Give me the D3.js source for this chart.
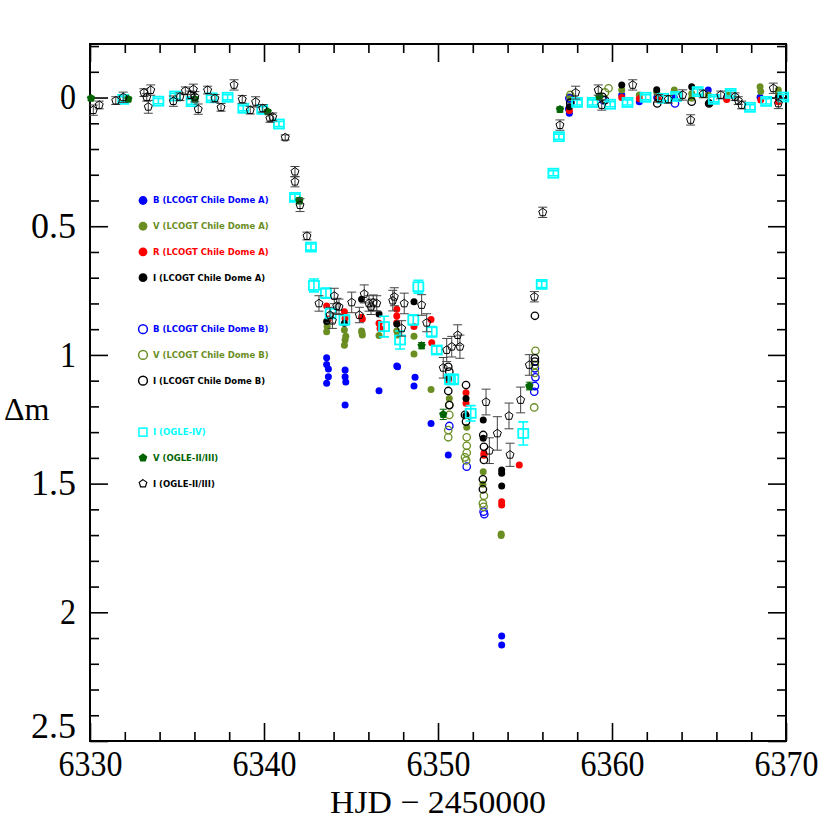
<!DOCTYPE html>
<meta charset="utf-8">
<style>
    body {
        margin: 0;
        background-color: #fff;
    }

    svg {
        display: block;
    }

    .axis text {
        font-family: "Liberation Serif", "DejaVu Serif", serif;
        font-size: 35px;
        fill: #000;
    }

    .axis path,
    .axis line {
        stroke: #000;
        stroke-width: 1.6px;
    }

    .legenda text {
        font-family: "DejaVu Sans", sans-serif;
        font-weight: bold;
        font-size: 8.5px;
    }

    .titulo {
        font-family: "Liberation Serif", "DejaVu Serif", serif;
        font-size: 32px;
    }
</style>
<title>Light curve</title>
<svg width="830" height="830"></svg>
<script src="https://cdn.jsdelivr.net/npm/d3@7"></script>
<script>
    // LCOGT Chile Dome A  [HJD-2450000, dm]
    var domeA_B = [
        [6343.60, 1.011], [6343.60, 1.037], [6343.70, 1.055], [6343.70, 1.085], [6343.60, 1.110],
        [6344.66, 1.059], [6344.66, 1.085], [6344.70, 1.105], [6344.66, 1.195],
        [6346.61, 1.139], [6347.63, 1.043], [6347.68, 1.046],
        [6348.68, 1.087], [6348.62, 1.121], [6349.60, 1.266], [6350.59, 1.389],
        [6353.66, 2.092], [6353.66, 2.127],
        [6357.55, 0.061], [6357.50, 0.045], [6360.56, -0.010], [6361.57, 0.016], [6362.57, 0.000],
        [6363.58, 0.000], [6365.53, -0.029], [6366.59, 0.000], [6368.51, -0.001], [6369.56, 0.000]
    ];
    var domeA_V = [
        [6343.63, 0.890], [6343.60, 0.910],
        [6344.62, 0.903], [6344.70, 0.927], [6344.66, 0.942], [6344.62, 0.962],
        [6345.61, 0.907], [6345.65, 0.923], [6345.63, 0.914],
        [6346.61, 0.925], [6347.63, 0.907], [6347.68, 0.923],
        [6348.62, 0.927], [6348.62, 0.996], [6349.60, 1.134],
        [6350.65, 1.169], [6351.65, 1.281], [6352.60, 1.454], [6352.58, 1.502],
        [6353.63, 1.696], [6353.63, 1.702],
        [6357.55, -0.003], [6357.60, 0.010], [6360.56, -0.029], [6361.57, -0.010], [6362.57, -0.020],
        [6363.58, -0.029], [6364.58, -0.016], [6364.58, 0.003], [6365.53, -0.010], [6366.65, -0.010],
        [6368.51, -0.042], [6368.55, -0.023], [6369.56, -0.029], [6369.56, -0.015]
    ];
    var domeA_R = [
        [6343.60, 0.810], [6343.70, 0.860], [6344.62, 0.832], [6344.66, 0.858],
        [6345.61, 0.854], [6345.65, 0.860], [6346.61, 0.877], [6346.67, 0.897],
        [6347.63, 0.823], [6347.63, 0.849], [6347.63, 0.875], [6348.62, 0.890],
        [6349.60, 0.862], [6349.64, 0.953], [6350.59, 1.098],
        [6351.61, 1.147], [6351.61, 1.188], [6352.64, 1.382], [6352.64, 1.390],
        [6353.66, 1.570], [6353.66, 1.583], [6354.67, 1.428],
        [6357.55, 0.050], [6360.56, 0.000], [6361.57, 0.005], [6362.65, 0.005],
        [6366.59, 0.008], [6368.55, 0.010], [6369.56, 0.016]
    ];
    var domeA_I = [
        [6343.60, 0.870], [6344.62, 0.877], [6345.61, 0.784], [6346.61, 0.841],
        [6347.63, 0.880], [6348.62, 0.793], [6350.59, 1.090],
        [6351.61, 1.169], [6351.61, 1.235], [6352.60, 1.253], [6352.60, 1.324],
        [6353.66, 1.447], [6353.66, 1.460], [6353.66, 1.509],
        [6357.55, 0.036], [6360.56, -0.049], [6362.57, -0.030], [6364.58, -0.042],
        [6365.58, 0.023], [6369.56, 0.000]
    ];

    // LCOGT Chile Dome B
    var domeB_B = [
        [6350.65, 1.276], [6351.65, 1.434], [6352.62, 1.609], [6352.66, 1.619],
        [6355.57, 1.052], [6355.60, 1.087], [6355.57, 1.121], [6355.53, 1.143],
        [6357.55, 0.003], [6357.60, 0.020], [6359.50, 0.010], [6363.62, 0.023]
    ];
    var domeB_V = [
        [6350.65, 1.195], [6350.65, 1.233], [6350.59, 1.292], [6350.59, 1.320],
        [6351.65, 1.320], [6351.65, 1.353], [6351.65, 1.380], [6351.55, 1.398], [6351.62, 1.410],
        [6352.64, 1.547], [6352.58, 1.577], [6352.62, 1.590],
        [6355.60, 0.984], [6355.57, 1.039], [6355.57, 1.070], [6355.53, 1.204],
        [6357.60, -0.010], [6359.80, -0.036], [6359.60, -0.020]
    ];
    var domeB_I = [
        [6350.59, 1.046], [6350.65, 1.065], [6350.59, 1.140], [6350.65, 1.195],
        [6351.61, 1.117], [6351.55, 1.233], [6351.61, 1.259],
        [6352.60, 1.311], [6352.64, 1.357], [6352.64, 1.408], [6352.58, 1.483], [6352.58, 1.522],
        [6355.57, 0.848], [6355.57, 1.013], [6355.57, 1.026],
        [6357.60, 0.020], [6359.45, -0.003], [6359.60, 0.010], [6362.60, 0.023],
        [6364.58, 0.016], [6365.58, 0.023]
    ];

    // OGLE  [HJD-2450000, dm, erro]
    var ogle4_I = [
        [6331.91, 0.007, 0.010], [6333.93, 0.014, 0.010], [6334.89, -0.006, 0.010], [6335.84, 0.016, 0.010],
        [6336.99, 0.001, 0.010], [6337.91, -0.001, 0.010], [6338.81, 0.042, 0.010], [6339.90, 0.046, 0.010],
        [6340.86, 0.103, 0.010], [6341.78, 0.388, 0.012], [6342.70, 0.581, 0.012], [6342.87, 0.730, 0.025],
        [6343.56, 0.760, 0.020], [6343.83, 0.838, 0.020], [6344.62, 0.864, 0.020], [6346.90, 0.890, 0.040],
        [6347.82, 0.942, 0.035], [6348.87, 0.735, 0.025], [6348.58, 0.864, 0.020], [6349.64, 0.910, 0.020],
        [6349.93, 0.981, 0.015], [6350.69, 1.095, 0.020], [6350.88, 1.095, 0.020], [6351.88, 1.227, 0.030],
        [6354.90, 1.305, 0.045], [6355.96, 0.726, 0.012], [6356.63, 0.294, 0.010], [6356.95, 0.152, 0.010],
        [6357.99, 0.019, 0.010], [6358.89, 0.019, 0.010], [6359.89, 0.026, 0.010], [6360.89, 0.019, 0.010],
        [6361.93, -0.001, 0.010], [6362.93, 0.003, 0.010], [6363.68, -0.004, 0.010], [6364.92, -0.023, 0.010],
        [6365.85, 0.007, 0.010], [6366.82, -0.016, 0.010], [6367.93, 0.038, 0.010], [6368.86, 0.015, 0.010],
        [6369.84, -0.002, 0.010]
    ];
    var ogle23_V = [
        [6330.06, 0.003, 0.008], [6332.20, 0.006, 0.008], [6336.03, 0.006, 0.008], [6340.21, 0.055, 0.008],
        [6342.03, 0.401, 0.012], [6349.06, 0.964, 0.012], [6350.30, 1.231, 0.020], [6355.25, 1.121, 0.015],
        [6357.01, 0.046, 0.010], [6359.27, -0.003, 0.010]
    ];
    var ogle23_I = [
        [6330.19, 0.049, 0.020], [6330.53, 0.029, 0.015], [6331.48, 0.012, 0.015], [6331.91, -0.001, 0.020],
        [6333.10, -0.019, 0.015], [6333.26, -0.001, 0.015], [6333.35, 0.036, 0.025], [6333.49, -0.029, 0.020],
        [6334.79, 0.014, 0.020], [6335.17, -0.003, 0.015], [6335.48, -0.026, 0.015], [6335.79, -0.010, 0.015],
        [6335.94, -0.032, 0.020], [6336.03, -0.003, 0.020], [6336.22, 0.045, 0.020], [6336.76, -0.029, 0.015],
        [6337.18, 0.003, 0.015], [6337.53, 0.038, 0.015], [6338.28, -0.049, 0.020], [6338.75, 0.007, 0.015],
        [6339.21, 0.049, 0.015], [6339.52, 0.017, 0.020], [6339.93, 0.042, 0.015], [6340.34, 0.081, 0.015],
        [6340.50, 0.075, 0.015], [6341.22, 0.155, 0.010], [6341.78, 0.288, 0.020], [6341.78, 0.327, 0.020],
        [6342.07, 0.418, 0.025], [6342.47, 0.538, 0.015],
        [6343.16, 0.800, 0.030], [6343.79, 0.845, 0.030], [6343.93, 0.867, 0.030], [6344.04, 0.771, 0.030],
        [6344.18, 0.810, 0.030], [6344.31, 0.813, 0.030], [6345.04, 0.796, 0.040], [6345.48, 0.845, 0.030],
        [6345.76, 0.763, 0.035], [6346.03, 0.800, 0.030], [6346.15, 0.813, 0.030], [6346.28, 0.797, 0.030],
        [6346.48, 0.800, 0.030], [6347.40, 0.789, 0.040], [6347.49, 0.774, 0.035], [6347.91, 0.897, 0.030],
        [6348.06, 0.800, 0.040], [6349.06, 0.806, 0.040], [6349.35, 0.875, 0.035], [6350.30, 1.050, 0.040],
        [6350.50, 0.981, 0.045], [6350.79, 0.968, 0.040], [6351.13, 0.923, 0.040], [6351.26, 0.968, 0.045],
        [6352.76, 1.183, 0.050], [6352.95, 1.372, 0.050], [6353.41, 1.305, 0.065], [6354.08, 1.237, 0.050],
        [6354.14, 1.388, 0.045], [6354.75, 1.175, 0.050], [6355.25, 1.039, 0.040], [6355.54, 0.774, 0.020],
        [6356.02, 0.446, 0.020], [6357.01, 0.107, 0.020],
        [6357.91, -0.019, 0.025], [6359.21, -0.029, 0.020], [6359.41, 0.029, 0.020], [6361.19, -0.049, 0.020],
        [6362.68, 0.003, 0.015], [6363.24, 0.007, 0.015], [6364.06, -0.010, 0.020], [6364.52, 0.087, 0.020],
        [6365.25, -0.014, 0.015], [6366.25, -0.010, 0.015], [6367.07, -0.003, 0.015], [6367.26, 0.012, 0.015],
        [6367.45, 0.029, 0.015], [6369.27, -0.036, 0.020], [6369.56, 0.023, 0.020]
    ];

    var xTicks = [6330, 6340, 6350, 6360, 6370];
    var yTicks = [0, 0.5, 1, 1.5, 2, 2.5];
    var legendLabels = [
        "B (LCOGT Chile Dome A)", "V (LCOGT Chile Dome A)", "R (LCOGT Chile Dome A)", "I (LCOGT Chile Dome A)",
        "B (LCOGT Chile Dome B)", "V (LCOGT Chile Dome B)", "I (LCOGT Chile Dome B)",
        "I (OGLE-IV)", "V (OGLE-II/III)", "I (OGLE-II/III)"
    ];

    var svg = d3.select("svg");
    var margemEsq = 90, margemDir = 786, margemSup = 44, margemInf = 741;

    var x = d3.scaleLinear().domain([6330, 6370]).range([margemEsq, margemDir]);
    var y = d3.scaleLinear().domain([-0.208, 2.5]).range([margemSup, margemInf]);

    var azul = "#0000ff", oliva = "#6b8e23", vermelho = "#ff0000",
        ciano = "#00ffff", verde = "#006400";

    // eixos: maiores e menores nos quatro lados
    var xMinor = d3.range(6330, 6371, 2).filter(function (d) { return d % 10 != 0; });
    var yMinor = d3.range(-2, 26).map(function (d) { return d / 10; })
        .filter(function (d) { return Math.round(d * 10) % 5 != 0; });

    function eixo(gen, transform, valores, tamanho, rotulo) {
        var g = svg.append("g").attr("class", "axis").attr("transform", transform)
            .call(gen.tickValues(valores).tickSize(-tamanho).tickSizeOuter(0)
                .tickFormat(rotulo ? function (d) { return d; } : ""));
        g.select(".domain").remove();
        return g;
    }

    var xb = eixo(d3.axisBottom(x).tickPadding(10), "translate(0," + margemInf + ")", xTicks, 18, true);
    eixo(d3.axisBottom(x), "translate(0," + margemInf + ")", xMinor, 9, false);
    eixo(d3.axisTop(x), "translate(0," + margemSup + ")", xTicks, 18, false);
    eixo(d3.axisTop(x), "translate(0," + margemSup + ")", xMinor, 9, false);
    var yl = eixo(d3.axisLeft(y).tickPadding(14), "translate(" + margemEsq + ",0)", yTicks, 18, true);
    eixo(d3.axisLeft(y), "translate(" + margemEsq + ",0)", yMinor, 9, false);
    eixo(d3.axisRight(y), "translate(" + margemDir + ",0)", yTicks, 18, false);
    eixo(d3.axisRight(y), "translate(" + margemDir + ",0)", yMinor, 9, false);

    xb.selectAll("text").attr("textLength", 64).attr("lengthAdjust", "spacingAndGlyphs");
    yl.selectAll("text").attr("textLength", function (d) { return String(d).length > 1 ? 45 : 16; })
        .attr("lengthAdjust", "spacingAndGlyphs");
    yl.selectAll("text").filter(function (d) { return d == 2.5; }).attr("dy", "-0.1em");

    svg.append("rect")
        .attr("x", margemEsq).attr("y", margemSup)
        .attr("width", margemDir - margemEsq).attr("height", margemInf - margemSup)
        .attr("fill", "none").attr("stroke", "#000").attr("stroke-width", 2);

    svg.append("text").attr("class", "titulo")
        .attr("x", 438).attr("y", 813)
        .attr("text-anchor", "middle")
        .attr("textLength", 216).attr("lengthAdjust", "spacingAndGlyphs")
        .text("HJD \u2212 2450000");

    svg.append("text").attr("class", "titulo")
        .attr("x", 4).attr("y", 420)
        .text("\u0394m");

    function pentagono(r) {
        var pts = d3.range(5).map(function (i) {
            var a = -Math.PI / 2 + i * 2 * Math.PI / 5;
            return [r * Math.cos(a), r * Math.sin(a)];
        });
        return "M" + pts.join("L") + "Z";
    }

    function circulos(dados, cor, cheio) {
        svg.append("g").selectAll("circle")
            .data(dados)
            .enter().append("circle")
            .attr("cx", function (d) { return x(d[0]); })
            .attr("cy", function (d) { return y(d[1]); })
            .attr("r", cheio ? 3.5 : 3.7)
            .attr("fill", cheio ? cor : "none")
            .attr("stroke", cor)
            .attr("stroke-width", cheio ? 0 : 1.3);
    }

    function barras(g, dados, cor, largura, espessura) {
        g.selectAll(".bar")
            .data(dados)
            .enter().append("path")
            .attr("fill", "none").attr("stroke", cor).attr("stroke-width", espessura)
            .attr("d", function (d) {
                var cx = x(d[0]), y0 = y(d[1] - d[2]), y1 = y(d[1] + d[2]), w = largura / 2;
                return "M" + cx + "," + y0 + "V" + y1 +
                    "M" + (cx - w) + "," + y0 + "H" + (cx + w) +
                    "M" + (cx - w) + "," + y1 + "H" + (cx + w);
            });
    }

    circulos(domeA_B, azul, true);
    circulos(domeA_V, oliva, true);
    circulos(domeA_R, vermelho, true);
    circulos(domeA_I, "#000", true);
    circulos(domeB_B, azul, false);
    circulos(domeB_V, oliva, false);
    circulos(domeB_I, "#000", false);

    // OGLE-IV
    var g4 = svg.append("g");
    barras(g4, ogle4_I, ciano, 10, 1.6);
    g4.selectAll("rect")
        .data(ogle4_I)
        .enter().append("rect")
        .attr("x", function (d) { return x(d[0]) - 5; })
        .attr("y", function (d) { return y(d[1]) - 4.5; })
        .attr("width", 10).attr("height", 9)
        .attr("fill", "none").attr("stroke", ciano).attr("stroke-width", 1.8);

    // OGLE-II/III V
    var gv = svg.append("g");
    barras(gv, ogle23_V, verde, 7, 1);
    gv.selectAll(".pv")
        .data(ogle23_V)
        .enter().append("path")
        .attr("transform", function (d) { return "translate(" + x(d[0]) + "," + y(d[1]) + ")"; })
        .attr("d", pentagono(4.4))
        .attr("fill", verde);

    // OGLE-II/III I
    var gi = svg.append("g");
    barras(gi, ogle23_I, "#444", 9, 1);
    gi.selectAll(".pi")
        .data(ogle23_I)
        .enter().append("path")
        .attr("transform", function (d) { return "translate(" + x(d[0]) + "," + y(d[1]) + ")"; })
        .attr("d", pentagono(4.2))
        .attr("fill", "none")
        .attr("stroke", "#000").attr("stroke-width", 1);

    // legenda
    var coresLegenda = [azul, oliva, vermelho, "#000", azul, oliva, "#000", ciano, verde, "#000"];
    var linhas = [0, 1, 2, 3, 5, 6, 7, 9, 10, 11];
    var leg = svg.append("g").attr("class", "legenda");
    legendLabels.forEach(function (texto, i) {
        var ly = y(0.4 + linhas[i] * 0.1), lx = 143;
        if (i < 4) {
            leg.append("circle").attr("cx", lx).attr("cy", ly).attr("r", 4.4).attr("fill", coresLegenda[i]);
        } else if (i < 7) {
            leg.append("circle").attr("cx", lx).attr("cy", ly).attr("r", 4.4)
                .attr("fill", "none").attr("stroke", coresLegenda[i]).attr("stroke-width", 1.5);
        } else if (i == 7) {
            leg.append("rect").attr("x", lx - 4).attr("y", ly - 4).attr("width", 8).attr("height", 8)
                .attr("fill", "none").attr("stroke", ciano).attr("stroke-width", 1.5);
        } else if (i == 8) {
            leg.append("path").attr("transform", "translate(" + lx + "," + ly + ")")
                .attr("d", pentagono(4.6)).attr("fill", verde);
        } else {
            leg.append("path").attr("transform", "translate(" + lx + "," + ly + ")")
                .attr("d", pentagono(4)).attr("fill", "none").attr("stroke", "#000").attr("stroke-width", 1.2);
        }
        leg.append("text")
            .attr("x", lx + 10).attr("y", ly + 3)
            .attr("fill", coresLegenda[i])
            .text(texto);
    });
</script>
